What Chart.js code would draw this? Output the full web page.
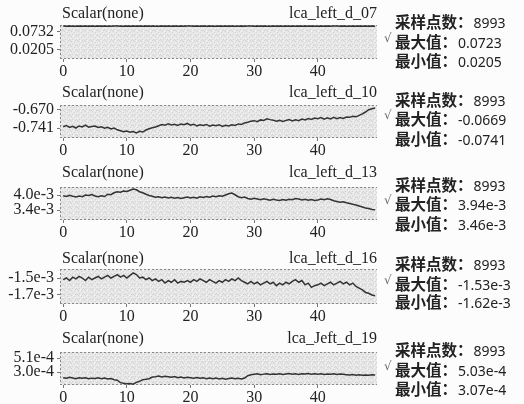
<!DOCTYPE html>
<html>
<head>
<meta charset="utf-8">
<script src="https://cdn.jsdelivr.net/npm/chart.js@4.4.1/dist/chart.umd.min.js"></script>
<style>
    body { margin: 0; width: 524px; height: 404px; background: #fcfcfc; position: relative; overflow: hidden; color: #222; }
    canvas { position: absolute; left: 0; }
    .title { position: absolute; font: 16px "Liberation Serif"; line-height: 18px; height: 18px; white-space: nowrap; }
    .stat { position: absolute; left: 395px; height: 20px; line-height: 20px; white-space: nowrap; }
    .stat b { font: bold 15.5px "Noto Sans CJK SC"; }
    .stat span { font: 14px "Noto Sans"; margin-left: 1px; }
    .check { position: absolute; left: 384px; height: 20px; line-height: 20px; font: 12px "DejaVu Sans"; color: #666; }
</style>
</head>
<body>
<script>
// x axis (time), shared by all five traces
const xTicks = [0, 10, 20, 30, 40];
const xMin = -0.5;
const xMax = 49.3;
const sampleStep = 0.5;

const channelNames = ['lca_left_d_07', 'lca_left_d_10', 'lca_left_d_13', 'lca_left_d_16', 'lca_Jeft_d_19'];
const sampleCounts = ['8993', '8993', '8993', '8993', '8993'];
const maxLabels = ['0.0723', '-0.0669', '3.94e-3', '-1.53e-3', '5.03e-4'];
const minLabels = ['0.0205', '-0.0741', '3.46e-3', '-1.62e-3', '3.07e-4'];

// y axes
const yTickValues = [[0.0205, 0.0732], [-0.741, -0.670], [3.4e-3, 4.0e-3], [-1.7e-3, -1.5e-3], [3.0e-4, 5.1e-4]];
const yTickLabels = [['0.0205', '0.0732'], ['-0.741', '-0.670'], ['3.4e-3', '4.0e-3'], ['-1.7e-3', '-1.5e-3'], ['3.0e-4', '5.1e-4']];
const yMin = [-0.0059, -0.7804, 3.0e-3, -1.806e-3, 1.05e-4];
const yMax = [0.0937, -0.6503, 4.32e-3, -1.394e-3, 6.0e-4];

// series values (multiply by valueScale to get axis units), one every 0.5 s
const valueScale = [1e-4, 1, 1e-3, 1e-3, 1e-4];
const values07 = [
    906, 902, 908, 904, 900, 907, 903, 909, 901, 905,
    904, 908, 902, 906, 903, 899, 905, 909, 904, 901,
    906, 903, 907, 900, 905, 902, 908, 904, 906, 901,
    903, 907, 904, 909, 902, 905, 900, 906, 903, 908,
    905, 901, 907, 903, 906, 902, 909, 904, 900, 905,
    903, 908, 902, 906, 904, 900, 907, 903, 905, 909,
    901, 906, 903, 908, 904, 902, 906, 900, 905, 903,
    907, 904, 909, 902, 906, 903, 905, 900, 908, 904,
    902, 906, 903, 907, 901, 905, 908, 903, 906, 902,
    904, 907, 901, 905, 903, 908, 904, 906, 902
];
const values10 = [
    -0.736, -0.731, -0.739, -0.734, -0.741, -0.733, -0.737, -0.730, -0.738, -0.735,
    -0.733, -0.739, -0.736, -0.742, -0.738, -0.745, -0.741, -0.748, -0.752, -0.756,
    -0.753, -0.758, -0.755, -0.760, -0.754, -0.757, -0.749, -0.744, -0.740, -0.737,
    -0.732, -0.727, -0.730, -0.724, -0.729, -0.726, -0.731, -0.725, -0.728, -0.723,
    -0.730, -0.726, -0.733, -0.728, -0.731, -0.727, -0.734, -0.729, -0.732, -0.728,
    -0.735, -0.730, -0.733, -0.728, -0.731, -0.725, -0.727, -0.721, -0.718, -0.714,
    -0.712, -0.716, -0.709, -0.711, -0.705, -0.708, -0.710, -0.714, -0.711, -0.715,
    -0.711, -0.708, -0.713, -0.709, -0.712, -0.706, -0.709, -0.704, -0.707, -0.702,
    -0.704, -0.700, -0.706, -0.701, -0.705, -0.699, -0.704, -0.700, -0.703, -0.698,
    -0.699, -0.695, -0.697, -0.691, -0.685, -0.678, -0.669, -0.665, -0.662
];
const values13 = [
    3.97, 3.94, 3.99, 3.95, 3.92, 3.96, 3.93, 4.00, 3.98, 4.02,
    3.96, 3.93, 3.97, 3.94, 4.03, 4.01, 4.09, 4.13, 4.11, 4.16,
    4.14, 4.19, 4.24, 4.21, 4.13, 4.09, 4.03, 3.98, 3.95, 3.91,
    3.93, 3.89, 3.92, 3.88, 3.91, 3.87, 3.90, 3.86, 3.89, 3.92,
    3.88, 3.91, 3.87, 3.93, 3.90, 3.94, 3.91, 3.96, 3.93, 3.97,
    3.95, 4.00, 4.05, 4.08, 4.01, 3.93, 3.89, 3.92, 3.86, 3.83,
    3.87, 3.84, 3.81, 3.85, 3.82, 3.79, 3.83, 3.80, 3.78, 3.82,
    3.79, 3.83, 3.81, 3.86, 3.84, 3.80, 3.83, 3.79, 3.82, 3.78,
    3.80, 3.84, 3.81, 3.85, 3.82, 3.77, 3.74, 3.71, 3.73, 3.69,
    3.66, 3.63, 3.60, 3.56, 3.52, 3.48, 3.46, 3.42, 3.41
];
const values16 = [
    -1.52, -1.50, -1.53, -1.49, -1.51, -1.48, -1.50, -1.53, -1.49, -1.52,
    -1.50, -1.48, -1.51, -1.49, -1.47, -1.50, -1.48, -1.46, -1.49, -1.47,
    -1.50, -1.47, -1.44, -1.46, -1.50, -1.49, -1.52, -1.50, -1.53, -1.51,
    -1.54, -1.52, -1.56, -1.53, -1.55, -1.52, -1.56, -1.54, -1.55, -1.53,
    -1.55, -1.52, -1.54, -1.51, -1.53, -1.55, -1.52, -1.54, -1.56, -1.53,
    -1.55, -1.52, -1.54, -1.51, -1.53, -1.50, -1.53, -1.55, -1.57, -1.54,
    -1.57, -1.55, -1.58, -1.56, -1.54, -1.57, -1.55, -1.59, -1.56, -1.58,
    -1.55, -1.57, -1.54, -1.52, -1.55, -1.53, -1.58, -1.56, -1.61, -1.59,
    -1.58, -1.56, -1.59, -1.57, -1.55, -1.58, -1.56, -1.54, -1.57, -1.55,
    -1.58, -1.56, -1.60, -1.62, -1.64, -1.67, -1.68, -1.70, -1.71
];
const values19 = [
    2.15, 2.05, 2.20, 2.10, 2.00, 2.15, 2.05, 2.12, 1.98, 2.08,
    2.03, 2.12, 2.00, 2.10, 1.95, 2.02, 1.85, 1.78, 1.40, 1.30,
    1.22, 1.28, 1.18, 1.45, 1.60, 1.85, 1.90, 2.00, 2.25, 2.30,
    2.38, 2.25, 2.35, 2.28, 2.20, 2.32, 2.15, 2.25, 2.12, 2.22,
    2.15, 2.08, 2.18, 2.05, 2.12, 2.00, 2.10, 1.98, 2.08, 1.95,
    2.05, 1.92, 2.02, 2.08, 1.98, 2.05, 1.95, 2.10, 2.45, 2.58,
    2.65, 2.72, 2.60, 2.68, 2.75, 2.62, 2.70, 2.66, 2.74, 2.63,
    2.70, 2.78, 2.66, 2.72, 2.64, 2.75, 2.69, 2.77, 2.65, 2.72,
    2.68, 2.75, 2.63, 2.71, 2.66, 2.74, 2.62, 2.70, 2.65, 2.60,
    2.55, 2.62, 2.52, 2.58, 2.50, 2.56, 2.53, 2.59, 2.55
];
const seriesValues = [values07, values10, values13, values16, values19];

// page layout (px)
const plotTops = [25, 105, 187, 269, 352];
const plotHeights = [34, 33, 33, 35, 33];
const titleYs = [13, 92, 172, 258, 338];
const statYs = [[20, 40, 59], [98, 117, 137], [183, 202, 222], [262, 282, 300], [348, 368, 387]];
const padTop = 14;
const xAxisHeight = 24;
const serif = 'Liberation Serif';

// speckled tile for the plot background (looks like the scanned screen)
const tile = document.createElement('canvas');
tile.width = 7; tile.height = 5;
(function () {
    const t = tile.getContext('2d');
    t.fillStyle = '#e7e7e7';
    t.fillRect(0, 0, 7, 5);
    t.fillStyle = '#d2d2d2';
    [[1, 0], [4, 1], [6, 3], [2, 3], [0, 4], [5, 4]].forEach(([x, y]) => t.fillRect(x, y, 1, 1));
    t.fillStyle = '#f2f2f2';
    [[3, 0], [0, 2], [5, 2], [3, 4]].forEach(([x, y]) => t.fillRect(x, y, 1, 1));
})();

// grey plot background with dashed frame
const plotFrame = {
    id: 'plotFrame',
    beforeDatasetsDraw(chart) {
        const { ctx, chartArea: a } = chart;
        ctx.save();
        ctx.fillStyle = ctx.createPattern(tile, 'repeat');
        ctx.fillRect(a.left, a.top, a.right - a.left, a.bottom - a.top);
        ctx.strokeStyle = '#888';
        ctx.lineWidth = 1;
        ctx.setLineDash([2, 2]);
        ctx.beginPath();
        ctx.moveTo(a.left, a.top + 0.5); ctx.lineTo(a.right, a.top + 0.5);
        ctx.moveTo(a.left, a.bottom - 0.5); ctx.lineTo(a.right, a.bottom - 0.5);
        ctx.moveTo(a.left + 0.5, a.top); ctx.lineTo(a.left + 0.5, a.bottom);
        ctx.stroke();
        ctx.restore();
    }
};

function addDiv(cls, html, style) {
    const d = document.createElement('div');
    d.className = cls;
    d.innerHTML = html;
    Object.assign(d.style, style);
    document.body.appendChild(d);
}

seriesValues.forEach((vals, p) => {
    const canvas = document.createElement('canvas');
    canvas.width = 380;
    canvas.height = padTop + plotHeights[p] + xAxisHeight;
    canvas.style.top = (plotTops[p] - padTop) + 'px';
    document.body.appendChild(canvas);

    const points = vals.map((v, i) => ({ x: i * sampleStep, y: v * valueScale[p] }));

    new Chart(canvas, {
        type: 'line',
        data: {
            datasets: [{
                data: points,
                borderColor: '#333',
                borderWidth: 1.5,
                pointRadius: 0,
                tension: 0
            }]
        },
        options: {
            responsive: false,
            animation: false,
            layout: { padding: { top: padTop, right: 3, left: 0, bottom: 0 } },
            plugins: { legend: { display: false }, tooltip: { enabled: false } },
            scales: {
                x: {
                    type: 'linear',
                    min: xMin,
                    max: xMax,
                    afterBuildTicks: s => { s.ticks = xTicks.map(v => ({ value: v })); },
                    afterFit: s => { s.height = xAxisHeight; s.paddingLeft = 0; s.paddingRight = 0; },
                    grid: { drawOnChartArea: false, tickLength: 3, color: '#777' },
                    border: { display: false },
                    ticks: {
                        color: '#222',
                        font: { family: serif, size: 16 },
                        padding: 0,
                        maxRotation: 0,
                        autoSkip: false
                    }
                },
                y: {
                    min: yMin[p],
                    max: yMax[p],
                    afterBuildTicks: s => { s.ticks = yTickValues[p].map(v => ({ value: v })); },
                    afterFit: s => { s.width = 60; s.paddingTop = 0; s.paddingBottom = 0; },
                    grid: { drawOnChartArea: false, tickLength: 3, color: '#777' },
                    border: { display: false },
                    ticks: {
                        color: '#222',
                        font: { family: serif, size: 16 },
                        padding: 3,
                        callback: (v, i) => yTickLabels[p][i]
                    }
                }
            }
        },
        plugins: [plotFrame]
    });

    addDiv('title', 'Scalar(none)', { left: '62px', top: (titleYs[p] - 9) + 'px' });
    addDiv('title', channelNames[p], { right: (524 - 377) + 'px', top: (titleYs[p] - 9) + 'px' });

    const [y1, y2, y3] = statYs[p];
    addDiv('stat', '<b>采样点数：</b><span>' + sampleCounts[p] + '</span>', { top: (y1 - 10) + 'px' });
    addDiv('stat', '<b>最大值：</b><span>' + maxLabels[p] + '</span>', { top: (y2 - 10) + 'px' });
    addDiv('stat', '<b>最小值：</b><span>' + minLabels[p] + '</span>', { top: (y3 - 10) + 'px' });
    addDiv('check', '√', { top: (y2 - 9) + 'px' });
});
</script>
</body>
</html>
